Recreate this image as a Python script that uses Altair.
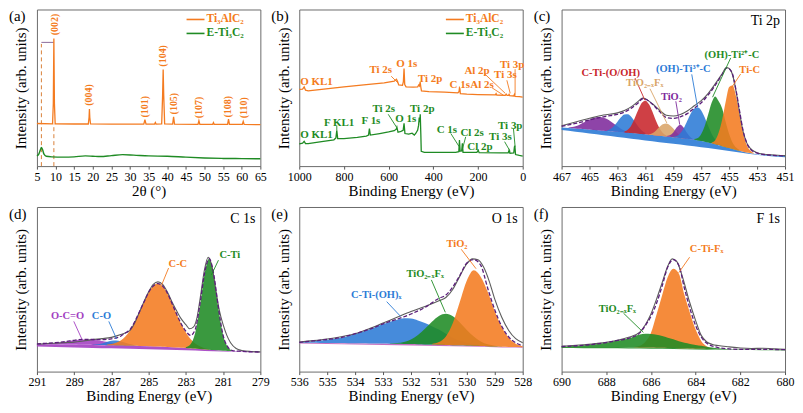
import altair as alt
import pandas as pd

FONT = "'Liberation Serif', 'Times New Roman', Times, serif"
W = 224
H1 = 157
H2 = 165

OR = "#F47B20"; GR = "#1F8B24"; BL = "#2C7BD6"; RD = "#C8262B"
TN = "#D9A468"; PU = "#7E2A9C"; PU2 = "#A33FC2"
RAWC = "#5C5C5C"; FITC = "#5B1F7A"

# ---------------- (a) XRD ----------------
XRD_TI3ALC2 = [(5, 27.2), (9.2, 27.0), (9.4, 40.0), (9.55, 81.5), (9.7, 40.0), (9.9, 27.0), (15, 26.9),
               (18.8, 26.9), (19.0, 31.0), (19.1, 36.4), (19.2, 31.0), (19.4, 26.9), (25, 26.8), (30, 26.8),
               (33.7, 26.8), (34.0, 29.6), (34.3, 26.8), (36.6, 26.8), (36.8, 27.8), (37.0, 26.8),
               (38.5, 26.9), (38.75, 45.0), (38.9, 61.7), (39.05, 45.0), (39.3, 27.0), (41.45, 26.8),
               (41.7, 31.5), (41.95, 26.8), (48.25, 26.7), (48.5, 29.0), (48.75, 26.7), (52.2, 26.7),
               (52.4, 27.8), (52.6, 26.7), (56.2, 26.6), (56.45, 30.0), (56.7, 26.6), (60.15, 26.6),
               (60.4, 28.5), (60.65, 26.6), (65, 26.5)]
XRD_ETI3C2 = [(5, 6.5), (5.5, 7.6), (5.9, 10.2), (6.2, 11.9), (6.5, 10.6), (6.9, 7.6), (7.5, 6.3), (9, 5.9),
              (12, 5.7), (15, 5.9), (18, 6.5), (20, 6.3), (22, 6.1), (25, 6.7), (28, 7.3), (31, 7.0),
              (35, 6.5), (40, 6.3), (45, 5.7), (50, 5.2), (55, 4.9), (60, 4.8), (65, 4.7)]
XRD_LABELS = ["(002)", "(004)", "(101)", "(104)", "(105)", "(107)", "(108)", "(110)"]
XRD_LABEL_2T = [9.8, 19.1, 34.1, 38.9, 41.7, 48.5, 56.3, 60.6]
XRD_LABEL_Y = [83.5, 38.5, 31.0, 63.5, 33.0, 30.5, 31.0, 30.5]
XRD_SHIFT_2T = [6.2, 9.55]
XRD_SHIFT_TOP = [78.0, 27.0]
XRD_SHIFT_BAR_Y = 79.0

# ---------------- (b) survey ----------------
SURV_TI3ALC2 = [(1000, 49.0), (985, 49.2), (978, 50.6), (972, 48.5), (960, 48.0), (900, 49.0), (800, 50.6),
                (700, 52.0), (620, 53.2), (575, 54.2), (565, 55.4), (560, 54.0), (555, 51.8), (538, 51.6),
                (534, 54.0), (531, 62.3), (528, 52.0), (522, 50.6), (490, 50.4), (470, 50.6), (465, 51.8),
                (462, 51.2), (459, 53.7), (456, 50.5), (453, 48.0), (420, 47.6), (350, 47.2), (290, 46.8),
                (285, 47.5), (283, 50.0), (281, 49.5), (279, 46.2), (250, 45.9), (200, 45.7), (122, 45.5),
                (119, 46.3), (116, 45.4), (78, 45.2), (74, 46.0), (70, 45.1), (64, 45.1), (61, 45.8),
                (58, 45.0), (40, 44.8), (37, 45.8), (34, 44.5), (15, 44.3), (0, 44.1)]
SURV_ETI3C2 = [(1000, 14.2), (985, 14.6), (978, 15.8), (972, 14.4), (960, 14.4), (900, 15.6), (845, 16.8),
               (836, 18.0), (832, 22.8), (828, 17.6), (800, 17.6), (740, 18.4), (700, 19.2), (690, 19.8),
               (686, 23.9), (682, 19.8), (640, 20.8), (600, 21.8), (575, 22.6), (566, 23.6), (563, 24.9),
               (558, 21.6), (545, 22.2), (535, 22.8), (531, 27.3), (527, 20.8), (510, 20.4), (495, 21.0),
               (485, 19.8), (478, 21.0), (470, 23.0), (466, 26.0), (463, 31.0), (461, 28.0), (458.5, 33.1),
               (456, 21.0), (454, 9.4), (440, 8.8), (300, 8.8), (286, 9.2), (283, 16.7), (280, 9.5),
               (273, 9.8), (270, 14.6), (267, 8.8), (205, 8.8), (199, 10.1), (195, 8.6), (100, 8.4),
               (65, 8.4), (61, 10.1), (57, 8.2), (40, 8.4), (37, 12.2), (35, 13.0), (32, 7.4), (15, 6.8),
               (0, 6.4)]
SURV_LAB_OR = [("O KL1", 995.6, 53.7), ("Ti 2s", 685.8, 61.1), ("O 1s", 566, 65.4), ("Ti 2p", 469, 55.6),
               ("C 1s", 327.4, 51.9), ("Al 2s", 234.5, 51.9), ("Al 2p", 261, 60.5), ("Ti 3s", 128.3, 58.0),
               ("Ti 3p", 101.8, 64.8)]
SURV_LAB_GR = [("O KL1", 995.6, 19.8), ("F KL1", 889.4, 27.2), ("F 1s", 721, 29.0), ("Ti 2s", 672.6, 36.4),
               ("O 1s", 570.8, 30.2), ("Ti 2p", 504.4, 36.4), ("C 1s", 385, 22.8), ("Cl 2s", 278.8, 21.0),
               ("Cl 2p", 247.8, 12.3), ("Ti 3s", 150.4, 18.5), ("Ti 3p", 110.6, 25.9)]
SURV_LEAD_OR = [(588.5, 57.4, 557.5, 53.0), (169.5, 58.8, 78.3, 46.5), (137.2, 50.0, 85.4, 45.2),
                (70.8, 54.8, 56, 46.5), (34, 61.9, 34, 45.5)]
SURV_LEAD_GR = [(601.8, 33.1, 565, 24.9), (321.6, 20.8, 284.7, 12.5), (255, 18.7, 272.6, 9.4),
                (81, 15.6, 56, 9.4), (41.3, 23.9, 34, 12.5), (832, 26.0, 832, 23.0)]

# ---------------- (c) Ti 2p ----------------
SHIRLEY_C = [24.6, 24.45, 24.3, 24.15, 24.0, 23.8, 23.65, 23.5, 23.3, 23.1, 22.95, 22.8, 22.6, 22.4, 22.25,
             22.1, 21.9, 21.7, 21.5, 21.3, 21.1, 20.9, 20.7, 20.5, 20.3, 20.1, 19.85, 19.6, 19.4, 19.2, 18.95,
             18.7, 18.5, 18.25, 17.95, 17.7, 17.4, 17.1, 16.75, 16.4, 16.0, 15.55, 15.05, 14.55, 14.0, 13.4,
             12.75, 12.1, 11.5, 10.9, 10.3, 9.75, 9.2, 8.7, 8.3, 7.9, 7.6, 7.4, 7.2, 7.05, 6.9, 6.8, 6.7,
             6.6, 6.5]
BASE_C = [23.0, 21.9, 20.8, 19.7, 18.6, 17.5, 16.4, 15.3, 14.2, 13.1, 12.0, 10.9, 9.6, 8.3, 7.2, 6.3, 5.6]
C_TIO2_B = (466.5, [0.3, 0.8, 1.5, 2.5, 3.8, 5.2, 6.5, 7.5, 8.2, 8.5, 8.3, 7.6, 6.4, 5, 3.5, 2.2, 1.2, 0.5])
C_TI3_B = (463.75, [0.4, 1.5, 3.5, 6.5, 9.5, 11.5, 11.8, 10.2, 7.5, 4.5, 2.2, 0.8])
C_CTIO = (462.5, [0.6, 2, 5, 10, 15.5, 20, 21.5, 19.5, 15, 9.5, 5, 2, 0.7])
C_TIOF = (460.75, [0.3, 1.2, 3, 5.5, 7.5, 8.2, 7.4, 5.5, 3.2, 1.5, 0.5])
C_TIO2 = (459.5, [0.2, 1, 3, 6.5, 8.5, 6.8, 3.5, 1.2, 0.3])
C_TI3 = (459.0, [0.3, 1, 3, 6.5, 11.5, 16.5, 20, 21, 19.5, 15.5, 10.5, 6, 3, 1.2, 0.4])
C_TI2 = (457.5, [0.5, 1.5, 4.5, 10, 18, 26, 30.5, 28, 24, 16, 9, 4, 1.5, 0.5])
C_TIC = (456.25, [0.5, 2.5, 8, 17, 29, 39, 40.5, 34, 23, 12, 5, 1.8, 0.5])
FIT_C = [(467, 25.3), (466.5, 26.3), (466, 27.3), (465.5, 28.3), (465, 29.5), (464.5, 30.6), (464, 31.5),
         (463.5, 32.3), (463, 33.0), (462.5, 34.5), (462, 37.0), (461.5, 40.5), (461.2, 43.0), (461, 42.8),
         (460.5, 39.5), (460, 35.0), (459.5, 31.0), (459, 30.5), (458.5, 31.5), (458, 33.5), (457.5, 37.0),
         (457, 40.5), (456.5, 45.5), (456, 51.5), (455.5, 58.5), (455.2, 62.5), (455, 62.0), (454.75, 58.5),
         (454.5, 48.0), (454.25, 35.0), (454, 22.5), (453.75, 15.0), (453.5, 11.0), (453, 8.3),
         (452.5, 7.4), (452, 7.0), (451.5, 6.7), (451, 6.5)]
RAW_C = [(467, 25.8), (466, 28.2), (465, 30.5), (464, 32.6), (463, 34.0), (462.5, 35.5), (462, 38.0),
         (461.5, 41.5), (461.2, 43.5), (461, 43.0), (460.5, 39.8), (460, 35.8), (459.5, 32.5), (459, 32.0),
         (458.5, 33.0), (458, 35.2), (457.5, 38.5), (457, 41.8), (456.5, 46.5), (456, 52.5), (455.5, 59.0),
         (455.2, 63.0), (455, 62.3), (454.75, 58.0), (454.5, 47.5), (454.25, 34.0), (454, 22.0),
         (453.75, 15.0), (453.5, 11.5), (453, 8.6), (452.5, 7.6), (452, 7.2), (451.5, 6.9), (451, 6.7)]
C_LABELS = [("C-Ti-(O/OH)", 465.58, 59.3), ("TiO₂₋ₓFₓ", 462.38, 53.1), ("TiO₂", 459.89, 44.4),
            ("(OH)-Ti³⁺-C", 460.24, 61.7), ("(OH)-Ti²⁺-C", 456.76, 71.0), ("Ti-C", 454.27, 61.1)]
C_LEADERS = [(461.74, 56.2, 461.03, 42.0), (460.67, 49.4, 459.46, 27.5), (458.82, 41.4, 458.54, 26.5),
             (457.68, 58.6, 457.26, 37.5), (454.89, 69.1, 456.19, 44.0), (454.18, 58.8, 454.84, 50.0)]

# ---------------- (d) C 1s ----------------
SHIRLEY_D = [16.8, 16.75, 16.7, 16.65, 16.6, 16.55, 16.5, 16.45, 16.4, 16.35, 16.3, 16.25, 16.2, 16.15, 16.1,
             16.05, 16.0, 15.92, 15.85, 15.77, 15.7, 15.62, 15.55, 15.47, 15.4, 15.3, 15.2, 15.1, 15.0, 14.85,
             14.7, 14.55, 14.4, 14.17, 13.95, 13.72, 13.5, 13.3, 13.1, 12.9, 12.7, 12.57, 12.45, 12.32, 12.2,
             12.12, 12.05, 11.97, 11.9]
BASE_D = [15.3, 15.0, 14.7, 14.4, 14.1, 13.8, 13.5, 13.2, 12.9, 12.5, 12.2, 11.9, 11.6]
D_OCO = (290.5, [0.2, 0.4, 0.7, 1.1, 1.6, 2.1, 2.6, 3.0, 3.25, 3.3, 3.2, 2.9, 2.5, 2.0, 1.5, 1.0, 0.6, 0.3, 0.1])
D_CO = (288.0, [0.1, 0.4, 1.0, 1.9, 2.7, 3.0, 2.6, 1.8, 1.0, 0.4, 0.1])
D_CC = (287.25, [0.3, 0.7, 1.6, 3.1, 5.6, 9.3, 14.3, 20.4, 26.8, 32.7, 36.8, 38.3, 36.8, 32.7, 26.8, 20.4,
                 14.3, 9.3, 5.6, 3.1, 1.6, 0.7, 0.3])
D_CTI = (283.0, [0.4, 2.4, 9.5, 25.3, 45.5, 55.3, 45.5, 25.3, 9.5, 2.4, 0.4])
FIT_D = [(291, 16.8), (290.5, 17.2), (290, 17.6), (289.5, 18.2), (289, 19.0), (288.5, 19.6), (288, 19.5),
         (287.5, 19.4), (287, 19.9), (286.5, 21.5), (286.25, 23.5), (286, 25.5), (285.75, 30.3),
         (285.5, 36.2), (285.25, 42.3), (285, 48.2), (284.75, 52.0), (284.5, 53.5), (284.25, 52.0),
         (284, 47.8), (283.75, 41.5), (283.5, 35.0), (283.25, 29.0), (283, 24.5), (282.75, 22.0),
         (282.5, 25.5), (282.25, 40.5), (282, 59.5), (281.75, 68.6), (281.5, 58.8), (281.25, 38.5),
         (281, 22.0), (280.75, 15.0), (280.5, 12.8), (280, 12.3), (279.5, 12.0), (279, 11.9)]
RAW_D = [(291, 16.6), (290.5, 17.0), (290, 17.3), (289.5, 17.6), (289, 17.9), (288.5, 18.6), (288, 19.4),
         (287.5, 20.0), (287, 20.8), (286.5, 22.5), (286, 25.0), (285.75, 29.5), (285.5, 36.0),
         (285.25, 42.5), (285, 48.5), (284.75, 53.0), (284.5, 54.5), (284.25, 53.0), (284, 48.5),
         (283.75, 42.5), (283.5, 37.0), (283.25, 32.0), (283, 28.5), (282.8, 26.0), (282.6, 27.0),
         (282.4, 33.0), (282.2, 47.0), (282, 62.0), (281.8, 69.5), (281.6, 64.0), (281.4, 50.0),
         (281.2, 37.0), (281, 28.5), (280.8, 22.0), (280.6, 17.5), (280.3, 14.0), (280, 12.8),
         (279.5, 12.2), (279, 12.0)]
D_LABELS = [("C-Ti", 281.2, 70.7), ("C-C", 283.93, 65.3), ("C-O", 288.05, 33.5), ("O-C=O", 290.25, 33.5)]
D_LEADERS = [(281.25, 67.7, 281.63, 58.7), (283.93, 62.9, 284.3, 52.7), (287.14, 30.5, 286.72, 19.8),
             (289.02, 30.5, 288.59, 19.8)]

# ---------------- (e) O 1s ----------------
SHIRLEY_E = [17.5, 17.48, 17.45, 17.43, 17.4, 17.35, 17.3, 17.25, 17.2, 17.15, 17.1, 17.05, 17.0, 16.93,
             16.85, 16.78, 16.7, 16.6, 16.5, 16.4, 16.3, 16.18, 16.05, 15.93, 15.8, 15.65, 15.5, 15.35, 15.2,
             15.1, 15.0, 14.9, 14.8]
BASE_E = [17.0, 16.7, 16.4, 16.1, 15.8, 15.5, 15.2, 14.8, 14.4]
E_CTIOH = (536.0, [0.3, 0.6, 1.0, 1.5, 2.0, 2.6, 3.2, 4.4, 5.7, 7.0, 8.4, 10.2, 11.9, 13.4, 14.7, 15.6, 15.6,
                   14.5, 13.0, 11.2, 9.2, 6.8, 4.4, 2.8, 1.7, 0.9, 0.4, 0.1])
E_TIOF = (532.75, [0.2, 0.5, 1.2, 2.8, 5.6, 9.5, 13.9, 17.5, 18.9, 17.5, 13.9, 9.5, 5.6, 2.8, 1.2, 0.5, 0.2])
E_TIO2 = (531.25, [0.4, 1.6, 5.2, 13.5, 26.5, 39.5, 45.9, 42.0, 33.0, 21.5, 12.0, 5.5, 2.0, 0.6])
FIT_E = [(536, 17.8), (535.5, 18.6), (535, 19.5), (534.5, 20.7), (534, 23.0), (533.5, 25.6), (533, 29.0),
         (532.5, 31.8), (532, 35.0), (531.5, 39.0), (531, 44.5), (530.75, 46.5), (530.5, 51.5),
         (530.25, 58.5), (530, 66.0), (529.75, 68.0), (529.5, 64.5), (529.25, 50.5), (529, 37.5),
         (528.75, 27.5), (528.5, 21.0), (528.25, 17.5), (528, 15.6)]
RAW_E = [(536, 18.0), (535.5, 18.8), (535, 19.8), (534.5, 21.2), (534, 23.0), (533.5, 26.0), (533, 29.5),
         (532.5, 33.0), (532, 36.5), (531.5, 39.5), (531, 43.0), (530.75, 45.0), (530.5, 50.0),
         (530.25, 58.0), (530, 65.5), (529.8, 68.5), (529.6, 68.0), (529.4, 63.5), (529.2, 55.0),
         (529, 44.0), (528.75, 33.0), (528.5, 25.0), (528.25, 20.0), (528, 17.5)]
E_LABELS = [("TiO₂", 530.73, 77.8), ("TiO₂₋ₓFₓ", 532.16, 59.3), ("C-Ti-(OH)ₓ", 534.15, 46.7)]
E_LEADERS = [(530.2, 74.3, 529.67, 62.5), (531.27, 55.7, 530.77, 36.0), (532.87, 42.5, 532.37, 33.5)]

# ---------------- (f) F 1s ----------------
SHIRLEY_F = [15.0, 15.0, 14.99, 14.98, 14.97, 14.95, 14.93, 14.92, 14.9, 14.87, 14.83, 14.8, 14.77, 14.73,
             14.68, 14.64, 14.6, 14.53, 14.45, 14.38, 14.3, 14.2, 14.1, 14.0, 13.9, 13.82, 13.75, 13.67, 13.6,
             13.55, 13.5, 13.45, 13.4, 13.37, 13.35, 13.32, 13.3, 13.27, 13.25, 13.22, 13.2]
BASE_F = [14.3, 14.2, 14.1, 13.95, 13.8, 13.65, 13.45, 13.25, 13.1, 12.95, 12.8]
F_CTIF = (686.75, [0.2, 1.0, 3.5, 9.0, 20.2, 32.0, 43.1, 48.2, 45.3, 32.4, 21.5, 11.6, 4.8, 1.5, 0.4])
F_TIOF = (690.0, [0.2, 0.3, 0.5, 0.7, 1.0, 1.3, 1.7, 2.2, 2.7, 3.3, 4.0, 4.6, 5.3, 6.6, 7.8, 8.3, 8.3, 7.8,
                  7.1, 6.2, 5.3, 4.3, 3.4, 2.8, 2.3, 1.8, 1.3, 0.9, 0.5, 0.25, 0.1])
FIT_F = [(690, 15.2), (689, 16.0), (688, 17.6), (687.5, 18.9), (687, 20.2), (686.5, 23.5), (686.25, 28.0),
         (686, 33.5), (685.75, 41.5), (685.5, 52.0), (685.25, 63.5), (685, 68.0), (684.75, 64.5),
         (684.5, 50.5), (684.25, 38.0), (684, 28.0), (683.75, 21.0), (683.5, 17.2), (683, 14.6),
         (682.5, 13.8), (682, 13.5), (681, 13.5), (680, 13.3)]
RAW_F = [(690, 15.4), (689.5, 15.8), (689, 16.3), (688.5, 17.0), (688, 17.8), (687.5, 19.0), (687, 20.8),
         (686.5, 24.0), (686.25, 28.5), (686, 35.0), (685.75, 44.0), (685.5, 54.0), (685.25, 64.0),
         (685.05, 68.5), (684.85, 67.0), (684.6, 58.0), (684.3, 43.5), (684, 31.0), (683.75, 22.0),
         (683.5, 18.0), (683.25, 16.5), (683, 15.8), (682.5, 15.0), (682, 14.3), (681.5, 14.0),
         (681, 14.2), (680.5, 13.8), (680, 13.6)]
F_LABELS = [("C-Ti-Fₓ", 684.26, 74.3), ("TiO₂₋ₓFₓ", 688.34, 38.3)]
F_LEADERS = [(684.27, 69.5, 684.76, 60.0), (687.23, 35.5, 686.34, 23.8)]

STEP = 0.25


# ---------------- helpers ----------------
def X(field, dom, rev, vals, title):
    return alt.X(field, type="quantitative",
                 scale=alt.Scale(domain=dom, reverse=rev, nice=False, zero=False),
                 axis=alt.Axis(values=vals, title=title, tickSize=3, labelPadding=2, titlePadding=1,
                               labelOverlap=False, labelFlush=False, format="d"))


def Y(field):
    return alt.Y(field, type="quantitative", scale=alt.Scale(domain=[0, 100], nice=False, zero=False),
                 axis=alt.Axis(title="Intensity (arb. units)", labels=False, ticks=False, domain=False,
                               grid=False, titlePadding=8))


def pairs(p):
    return pd.DataFrame(p, columns=["x", "y"])


def comp_df(comp, grid_start, shirley):
    start, heights = comp
    i0 = int(round((grid_start - start) / STEP))
    rows = []
    for i, h in enumerate(heights):
        b = shirley[i0 + i]
        rows.append({"x": start - i * STEP, "bot": b, "top": b + h})
    return pd.DataFrame(rows)


def band_df(grid_start, shirley, base):
    return pd.DataFrame({"x": [grid_start - k for k in range(len(base))],
                         "top": [shirley[4 * k] for k in range(len(base))],
                         "bot": base})


def labels_layer(labels, colors, xx, size=10.5):
    df = pd.DataFrame(labels, columns=["t", "x", "y"])
    df["c"] = colors
    return alt.Chart(df).mark_text(align="left", baseline="middle", font=FONT, fontSize=size,
                                   fontWeight="bold").encode(
        x=xx("x"), y=Y("y"), text="t:N", color=alt.Color("c:N", scale=None))


def leaders_layer(leaders, color, xx):
    df = pd.DataFrame(leaders, columns=["x1", "y1", "x2", "y2"])
    return alt.Chart(df).mark_rule(color=color, strokeWidth=0.9).encode(
        x=xx("x1"), x2=alt.X2("x2"), y=Y("y1"), y2=alt.Y2("y2"))


def letter_layer(letter):
    return alt.Chart(pd.DataFrame({"t": [letter]})).mark_text(
        align="left", baseline="top", font=FONT, fontSize=15, color="black").encode(
        text="t:N", x=alt.value(-28), y=alt.value(0))


def core_layer(name):
    return alt.Chart(pd.DataFrame({"t": [name]})).mark_text(
        align="right", baseline="top", font=FONT, fontSize=14, color="black").encode(
        text="t:N", x=alt.value(W - 5), y=alt.value(5))


def legend_layers(x0):
    out = []
    for name, col, yy in [("Ti₃AlC₂", OR, 10), ("E-Ti₃C₂", GR, 24)]:
        d = pd.DataFrame({"t": [name]})
        out.append(alt.Chart(d).mark_rule(color=col, strokeWidth=1.6).encode(
            x=alt.value(x0), x2=alt.value(x0 + 18), y=alt.value(yy)))
        out.append(alt.Chart(d).mark_text(align="left", baseline="middle", font=FONT, fontSize=11.5,
                                          fontWeight="bold", color=col).encode(
            text="t:N", x=alt.value(x0 + 20), y=alt.value(yy)))
    return out


def xps_panel(letter, core, dom, vals, grid_start, shirley, base, band_color, comps, comp_colors,
              fit, raw, labels, label_colors, leaders, leader_colors, height):
    xx = lambda f: X(f, dom, True, vals, "Binding Energy (eV)")
    layers = [alt.Chart(band_df(grid_start, shirley, base)).mark_area(
        color=band_color, opacity=0.9, interpolate="monotone").encode(x=xx("x"), y=Y("top"), y2=alt.Y2("bot"))]
    for comp, col in zip(comps, comp_colors):
        layers.append(alt.Chart(comp_df(comp, grid_start, shirley)).mark_area(
            color=col, opacity=0.88, interpolate="monotone").encode(x=xx("x"), y=Y("top"), y2=alt.Y2("bot")))
    layers.append(alt.Chart(pairs(raw)).mark_line(color=RAWC, strokeWidth=1.1, interpolate="monotone").encode(
        x=xx("x"), y=Y("y")))
    layers.append(alt.Chart(pairs(fit)).mark_line(color=FITC, strokeWidth=1.3, strokeDash=[4, 2],
                                                  interpolate="monotone").encode(x=xx("x"), y=Y("y")))
    for ld, col in zip(leaders, leader_colors):
        layers.append(leaders_layer([ld], col, xx))
    layers.append(labels_layer(labels, label_colors, xx))
    layers.append(letter_layer(letter))
    layers.append(core_layer(core))
    return alt.layer(*layers).properties(width=W, height=height)


# ---------------- (a) ----------------
xa = lambda f: X(f, [5, 65], False, list(range(5, 66, 5)), "2θ (°)")
shift_df = pd.DataFrame({"x": XRD_SHIFT_2T, "top": XRD_SHIFT_TOP, "bot": [0, 0]})
bar_df = pd.DataFrame({"x1": [XRD_SHIFT_2T[0]], "x2": [XRD_SHIFT_2T[1]], "y": [XRD_SHIFT_BAR_Y]})
peak_df = pd.DataFrame({"t": XRD_LABELS, "x": XRD_LABEL_2T, "y": XRD_LABEL_Y})
panel_a = alt.layer(
    alt.Chart(shift_df).mark_rule(color="#D9823B", strokeDash=[4, 3], strokeWidth=1).encode(
        x=xa("x"), y=Y("bot"), y2=alt.Y2("top")),
    alt.Chart(bar_df).mark_rule(color="#8C6A9A", strokeWidth=1).encode(x=xa("x1"), x2=alt.X2("x2"), y=Y("y")),
    alt.Chart(pairs(XRD_TI3ALC2)).mark_line(color=OR, strokeWidth=1.3).encode(x=xa("x"), y=Y("y")),
    alt.Chart(pairs(XRD_ETI3C2)).mark_line(color=GR, strokeWidth=1.4, interpolate="monotone").encode(
        x=xa("x"), y=Y("y")),
    alt.Chart(peak_df).mark_text(angle=270, align="left", baseline="middle", font=FONT, fontSize=10,
                                 fontWeight="bold", color=OR).encode(x=xa("x"), y=Y("y"), text="t:N"),
    *legend_layers(150),
    letter_layer("(a)"),
).properties(width=W, height=H1)

# ---------------- (b) ----------------
xb = lambda f: X(f, [0, 1000], True, [0, 200, 400, 600, 800, 1000], "Binding Energy (eV)")
panel_b = alt.layer(
    alt.Chart(pairs(SURV_TI3ALC2)).mark_line(color=OR, strokeWidth=1.3).encode(x=xb("x"), y=Y("y")),
    alt.Chart(pairs(SURV_ETI3C2)).mark_line(color=GR, strokeWidth=1.3).encode(x=xb("x"), y=Y("y")),
    leaders_layer(SURV_LEAD_OR, OR, xb),
    leaders_layer(SURV_LEAD_GR, GR, xb),
    labels_layer(SURV_LAB_OR, [OR] * len(SURV_LAB_OR), xb, 11),
    labels_layer(SURV_LAB_GR, [GR] * len(SURV_LAB_GR), xb, 11),
    *legend_layers(147),
    letter_layer("(b)"),
).properties(width=W, height=H1)

panel_c = xps_panel("(c)", "Ti 2p", [451, 467], list(range(451, 468, 2)), 467, SHIRLEY_C, BASE_C, BL,
                    [C_TIO2_B, C_TI3_B, C_CTIO, C_TIOF, C_TIO2, C_TI3, C_TI2, C_TIC],
                    [PU, BL, RD, TN, PU, BL, GR, OR], FIT_C, RAW_C,
                    C_LABELS, [RD, TN, PU, BL, GR, OR], C_LEADERS, [RD, TN, PU, BL, GR, OR], H1)

panel_d = xps_panel("(d)", "C 1s", [279, 291], list(range(279, 292, 2)), 291, SHIRLEY_D, BASE_D, PU2,
                    [D_OCO, D_CO, D_CC, D_CTI], [PU2, BL, OR, GR], FIT_D, RAW_D,
                    D_LABELS, [GR, OR, BL, PU2], D_LEADERS, [GR, OR, BL, PU2], H2)

panel_e = xps_panel("(e)", "O 1s", [528, 536], list(range(528, 537)), 536, SHIRLEY_E, BASE_E, "#C060B8",
                    [E_CTIOH, E_TIOF, E_TIO2], [BL, GR, OR], FIT_E, RAW_E,
                    E_LABELS, [OR, GR, BL], E_LEADERS, [OR, GR, BL], H2)

panel_f = xps_panel("(f)", "F 1s", [680, 690], list(range(680, 691, 2)), 690, SHIRLEY_F, BASE_F, GR,
                    [F_CTIF, F_TIOF], [OR, GR], FIT_F, RAW_F,
                    F_LABELS, [OR, GR], F_LEADERS, [OR, GR], H2)

chart = alt.concat(panel_a, panel_b, panel_c, panel_d, panel_e, panel_f, columns=3,
                   spacing=alt.RowColnumber(row=41, column=39), bounds="flush").properties(
    padding=0
).configure_view(stroke="#6b6b6b", strokeWidth=1).configure_axis(
    labelFont=FONT, titleFont=FONT, labelFontSize=12, titleFontSize=15, titleFontWeight="normal",
    labelColor="black", titleColor="black", tickColor="#555", domain=False, grid=False)

chart.save("out.html", embed_options={"renderer": "svg", "actions": False})
